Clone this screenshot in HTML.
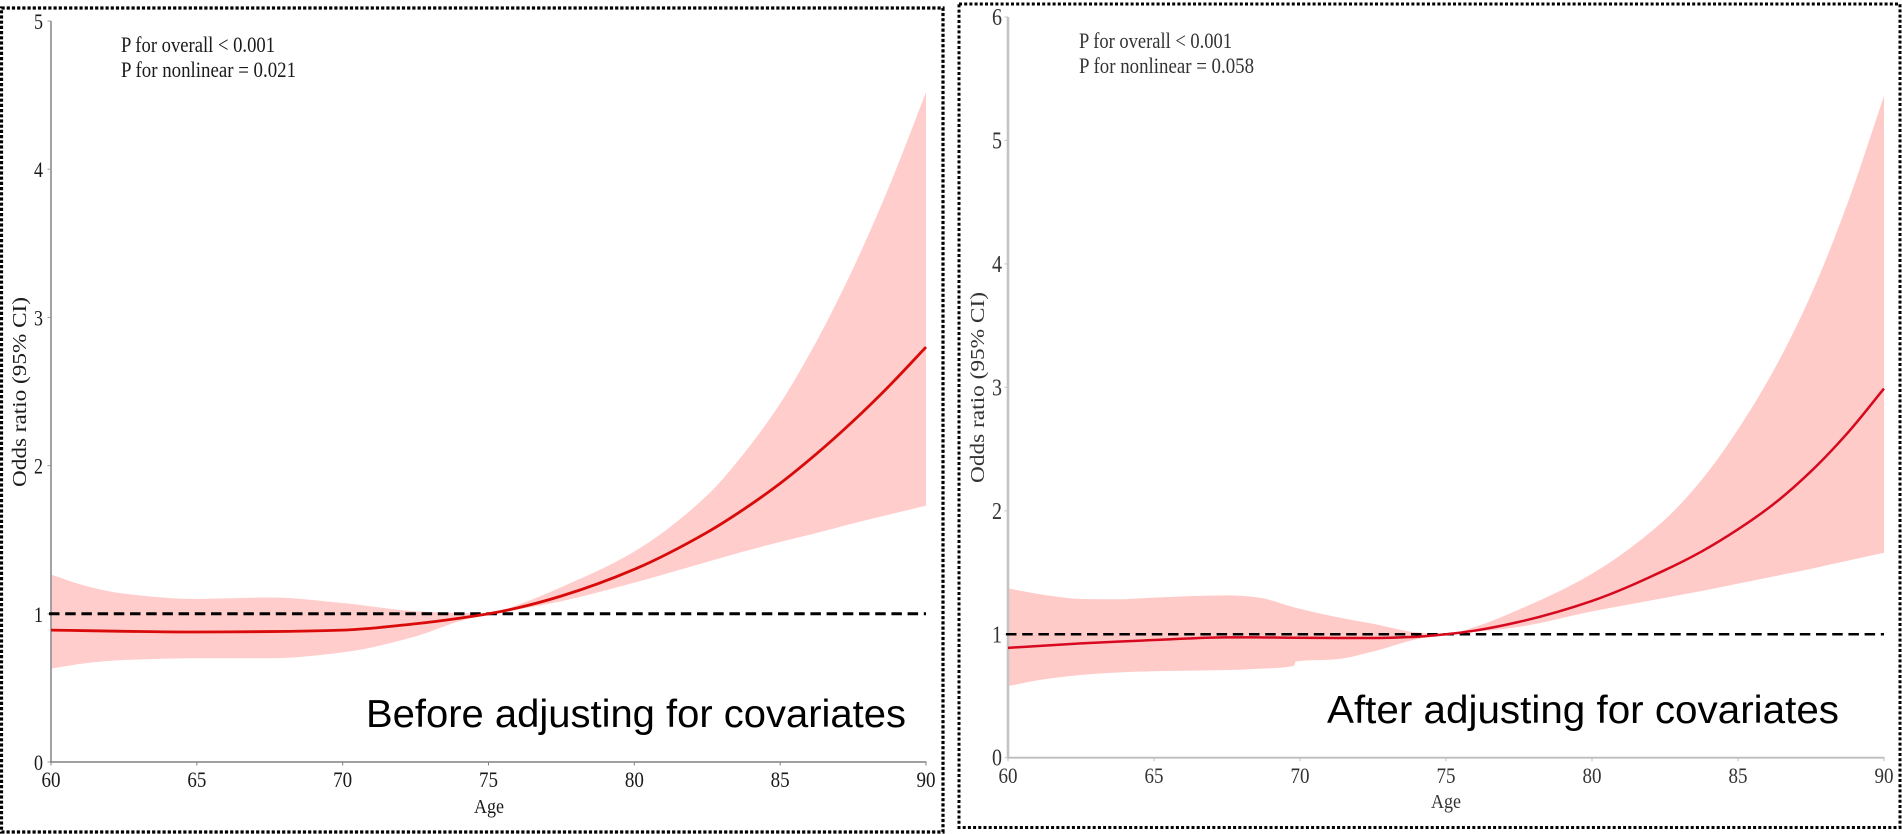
<!DOCTYPE html>
<html lang="en">
<head>
<meta charset="utf-8">
<title>Odds ratio by age before and after adjusting for covariates</title>
<style>
html,body{margin:0;padding:0;background:#fff;width:1902px;height:834px;overflow:hidden}
svg{display:block}
.serif{font-family:"Liberation Serif","Times New Roman",serif;fill:#1a1a1a}
.note{font-size:22px}
.tick{font-size:22px}
.axis-title{font-size:20px}
.caption{font-family:"Liberation Sans",Arial,sans-serif;font-size:39px;fill:#000}
.soft{fill:#333}
</style>
</head>
<body>
<svg id="figure" xmlns="http://www.w3.org/2000/svg" width="1902" height="834" viewBox="0 0 1902 834">
  <rect x="0" y="0" width="1902" height="834" fill="#ffffff"/>
  <rect x="1.5" y="8" width="941.5" height="824" fill="none" stroke="#000" stroke-width="3.2" stroke-dasharray="3.2 2"/>
  <rect x="959" y="4" width="941" height="823.5" fill="none" stroke="#000" stroke-width="3" stroke-dasharray="3 2.2"/>
  <g id="panel-left"></g>
  <g id="panel-right"></g>

  <text class="serif note" x="121" y="52" textLength="154" lengthAdjust="spacingAndGlyphs">P for overall &lt; 0.001</text>
  <text class="serif note" x="121" y="77" textLength="175" lengthAdjust="spacingAndGlyphs">P for nonlinear = 0.021</text>
  <text class="serif axis-title" transform="translate(26 487) rotate(-90)" x="0" y="0" textLength="190" lengthAdjust="spacingAndGlyphs">Odds ratio (95% CI)</text>
  <text class="serif axis-title" x="474" y="813" textLength="30" lengthAdjust="spacingAndGlyphs">Age</text>
  <text class="caption" x="366" y="727" textLength="540" lengthAdjust="spacingAndGlyphs">Before adjusting for covariates</text>

  <text class="serif note soft" x="1079" y="48" textLength="153" lengthAdjust="spacingAndGlyphs">P for overall &lt; 0.001</text>
  <text class="serif note soft" x="1079" y="73" textLength="175" lengthAdjust="spacingAndGlyphs">P for nonlinear = 0.058</text>
  <text class="serif axis-title soft" transform="translate(984 483) rotate(-90)" x="0" y="0" textLength="191" lengthAdjust="spacingAndGlyphs">Odds ratio (95% CI)</text>
  <text class="serif axis-title soft" x="1431" y="808" textLength="30" lengthAdjust="spacingAndGlyphs">Age</text>
  <text class="caption" x="1327" y="723" textLength="512" lengthAdjust="spacingAndGlyphs">After adjusting for covariates</text>
</svg>

<script>
var xTickLabels = [60, 65, 70, 75, 80, 85, 90];
var yTickLabelsLeft = [0, 1, 2, 3, 4, 5];
var yTickLabelsRight = [0, 1, 2, 3, 4, 5, 6];
var referenceValue = 1;

var agesLeft  = [60, 61.25, 62.5, 65, 67.5, 70, 72.5, 74, 75, 76, 77.5, 80, 82.5, 83.75, 85, 86.25, 87.5, 88.75, 90];
var oddsLeft  = [0.89, 0.886, 0.882, 0.877, 0.88, 0.89, 0.933, 0.97, 1, 1.04, 1.12, 1.30, 1.55, 1.705, 1.88, 2.08, 2.30, 2.54, 2.8];
var upperLeft = [1.264, 1.185, 1.136, 1.10, 1.11, 1.073, 1.017, 1.005, 1, 1.06, 1.18, 1.42, 1.80, 2.08, 2.42, 2.84, 3.33, 3.89, 4.52];
var lowerLeft = [0.63, 0.668, 0.688, 0.70, 0.70, 0.74, 0.848, 0.95, 1, 1.03, 1.085, 1.21, 1.35, 1.42, 1.485, 1.545, 1.61, 1.67, 1.73];

var agesRight  = [60, 61.25, 62.5, 63.75, 65, 67.5, 68.5, 69.8, 69.85, 71.25, 72.5, 74, 75, 76, 77.5, 80, 82.5, 83.75, 85, 86.25, 87.5, 88.75, 90];
var oddsRight  = [0.89, 0.908, 0.926, 0.94, 0.953, 0.975, 0.975, 0.972, 0.972, 0.97, 0.97, 0.98, 1, 1.03, 1.10, 1.27, 1.52, 1.67, 1.85, 2.06, 2.32, 2.63, 2.99];
var upperRight = [1.372, 1.318, 1.286, 1.283, 1.297, 1.315, 1.30, 1.218, 1.215, 1.14, 1.085, 1.015, 1, 1.06, 1.20, 1.49, 1.93, 2.25, 2.66, 3.15, 3.75, 4.49, 5.36];
var lowerRight = [0.58, 0.635, 0.67, 0.69, 0.70, 0.71, 0.72, 0.745, 0.778, 0.797, 0.86, 0.96, 1, 1.02, 1.06, 1.185, 1.295, 1.35, 1.41, 1.47, 1.53, 1.595, 1.66];

var SVG_NS = 'http://www.w3.org/2000/svg';

function make(tag, attrs, parent) {
  var el = document.createElementNS(SVG_NS, tag);
  Object.keys(attrs).forEach(function (k) { el.setAttribute(k, attrs[k]); });
  parent.appendChild(el);
  return el;
}

function tangents(xs, ys) {
  var n = xs.length, d = [], m = [];
  for (var i = 0; i < n - 1; i++) d.push((ys[i + 1] - ys[i]) / (xs[i + 1] - xs[i]));
  m[0] = d[0];
  m[n - 1] = d[n - 2];
  for (var j = 1; j < n - 1; j++) {
    if (d[j - 1] * d[j] <= 0) { m[j] = 0; continue; }
    var h0 = xs[j] - xs[j - 1], h1 = xs[j + 1] - xs[j];
    var w1 = 2 * h1 + h0, w2 = h1 + 2 * h0;
    m[j] = (w1 + w2) / (w1 / d[j - 1] + w2 / d[j]);
  }
  return m;
}

function curve(ages, values, sx, sy) {
  var m = tangents(ages, values), out = '';
  for (var i = 0; i < ages.length - 1; i++) {
    var h = (ages[i + 1] - ages[i]) / 3;
    out += ' C' + sx(ages[i] + h).toFixed(2) + ' ' + sy(values[i] + m[i] * h).toFixed(2) +
           ' ' + sx(ages[i + 1] - h).toFixed(2) + ' ' + sy(values[i + 1] - m[i + 1] * h).toFixed(2) +
           ' ' + sx(ages[i + 1]).toFixed(2) + ' ' + sy(values[i + 1]).toFixed(2);
  }
  return out;
}

function drawPanel(root, cfg, ages, odds, upper, lower, yLabels) {
  var xMin = xTickLabels[0], xMax = xTickLabels[xTickLabels.length - 1];
  var yMax = yLabels[yLabels.length - 1];
  var sx = function (v) { return cfg.x0 + (v - xMin) / (xMax - xMin) * (cfg.x1 - cfg.x0); };
  var sy = function (v) { return cfg.y0 - v / yMax * (cfg.y0 - cfg.y1); };

  var revAges = ages.slice().reverse(), revLower = lower.slice().reverse();
  var bandPath = 'M' + sx(ages[0]).toFixed(2) + ' ' + sy(upper[0]).toFixed(2) + curve(ages, upper, sx, sy) +
    ' L' + sx(revAges[0]).toFixed(2) + ' ' + sy(revLower[0]).toFixed(2) + curve(revAges, revLower, sx, sy) + ' Z';
  var band = make('path', { d: bandPath, fill: cfg.bandColor, stroke: 'none' }, root);
  
  

  var yAxis = make('line', { x1: cfg.x0, x2: cfg.x0, y1: sy(yMax), y2: sy(0), stroke: cfg.yAxisColor, 'stroke-width': cfg.yAxisWidth }, root);
  
  

  var xAxis = make('line', { x1: cfg.x0 - 1, x2: sx(xMax) + 0.5, y1: sy(0), y2: sy(0), stroke: cfg.xAxisColor, 'stroke-width': cfg.xAxisWidth }, root);
  
  

  yLabels.forEach(function (v) {
    var tick = make('line', { x1: cfg.x0 - 3.5, x2: cfg.x0, y1: sy(v), y2: sy(v), stroke: cfg.yAxisColor, 'stroke-width': 1 }, root);
    
    
    var label = make('text', { x: cfg.x0 - cfg.yLabelGap - cfg.yDigitWidth, y: sy(v) + 8, textLength: cfg.yDigitWidth, lengthAdjust: 'spacingAndGlyphs', 'class': 'serif tick' + cfg.textClass, style: 'font-size:' + cfg.yFont + 'px' }, root);
    label.textContent = String(v);
    
    
  });

  xTickLabels.forEach(function (v) {
    var tick = make('line', { x1: sx(v), x2: sx(v), y1: sy(0), y2: sy(0) + 3.5, stroke: cfg.xAxisColor, 'stroke-width': 1 }, root);
    
    
    var label = make('text', { x: sx(v) - 9.5, y: cfg.xLabelY, textLength: 19, lengthAdjust: 'spacingAndGlyphs', 'class': 'serif tick' + cfg.textClass }, root);
    label.textContent = String(v);
    
    
  });

  var ref = make('line', { x1: sx(xMin) - 2, x2: sx(xMax), y1: sy(referenceValue), y2: sy(referenceValue), stroke: '#000', 'stroke-width': cfg.dashWidth, 'stroke-dasharray': '10.5 5.7' }, root);
  
  

  var line = make('path', { d: 'M' + sx(ages[0]).toFixed(2) + ' ' + sy(odds[0]).toFixed(2) + curve(ages, odds, sx, sy), fill: 'none', stroke: cfg.lineColor, 'stroke-width': cfg.lineWidth }, root);
  
  
}

drawPanel(document.getElementById('panel-left'), {
  x0: 51, x1: 926, y0: 762, y1: 21,
  bandColor: '#ffcdcb', lineColor: '#d80a0a', lineWidth: 2.8, dashWidth: 3,
  yAxisColor: '#999999', yAxisWidth: 1.8, xAxisColor: '#808080', xAxisWidth: 1.4,
  yLabelGap: 8, yDigitWidth: 9, yFont: 22, xLabelY: 787, textClass: ''
}, agesLeft, oddsLeft, upperLeft, lowerLeft, yTickLabelsLeft);

drawPanel(document.getElementById('panel-right'), {
  x0: 1008, x1: 1884, y0: 757.7, y1: 17,
  bandColor: '#ffcbc8', lineColor: '#d6091f', lineWidth: 2.5, dashWidth: 2.6,
  yAxisColor: '#c4c4c4', yAxisWidth: 2.6, xAxisColor: '#bdbdbd', xAxisWidth: 1.9,
  yLabelGap: 6, yDigitWidth: 10, yFont: 24, xLabelY: 783, textClass: ' soft'
}, agesRight, oddsRight, upperRight, lowerRight, yTickLabelsRight);
</script>
</body>
</html>
